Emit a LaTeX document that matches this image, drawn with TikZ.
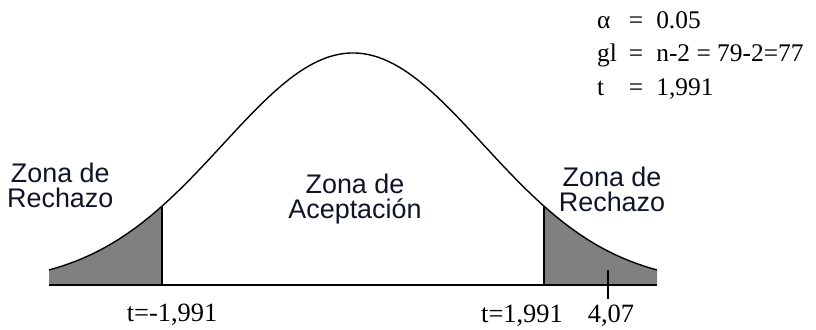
\documentclass[tikz,border=0pt]{standalone}
\usepackage{fontspec}
\setmainfont{Liberation Serif}
\setsansfont{Liberation Sans}
\usepackage{xcolor}
\usepackage{tikz}
\usetikzlibrary{positioning}
\definecolor{zonaInk}{RGB}{15, 20, 40}
\definecolor{zonaGray}{RGB}{128, 128, 128}
\tikzset{
    zona/.style={
        font=\sffamily\fontsize{27}{25}\selectfont,
        align=center,
        text=zonaInk,
        inner sep=0pt
    },
    valor/.style={
        font=\fontsize{26.5}{35}\selectfont,
        inner sep=0pt
    },
    curva/.style={
        line width=1.4pt,
        black
    },
    corte/.style={
        line width=2pt,
        black
    }
}

\begin{document}
\begin{tikzpicture}[x=1bp, y=-1bp, line join=round,
    declare function={bell(\x)=285-232*exp(-0.5*((\x-353)/130)^2);}]
    \useasboundingbox (0,0) rectangle (816,329);

    % Coordinates
    \coordinate (L0) at (49,285);
    \coordinate (L1) at (162,285);
    \coordinate (R1) at (544,285);
    \coordinate (R0) at (657,285);
    \coordinate (LT) at (162,{bell(162)});
    \coordinate (RT) at (544,{bell(544)});
    \coordinate (T0) at (608,270);
    \coordinate (T1) at (608,299);

    % Rejection tails
    \fill[zonaGray] (L0) -- plot[domain=49:162, samples=40] (\x,{bell(\x)}) -- (L1) -- cycle;
    \fill[zonaGray] (R1) -- plot[domain=544:657, samples=40] (\x,{bell(\x)}) -- (R0) -- cycle;

    % Curve and axis
    \draw[curva] plot[domain=49:657, samples=150, smooth] (\x,{bell(\x)});
    \draw[line width=1.2pt] (L0) -- (R0);
    \draw[corte] (L1) -- (LT);
    \draw[corte] (R1) -- (RT);
    \draw[corte] (T0) -- (T1);

    % Labels (base = last line)
    \node[zona, anchor=base west] (rechazoL) at (7,207) {Zona de\\Rechazo};
    \node[zona, anchor=base] (aceptacion) at (355,218) {Zona de\\Aceptación};
    \node[zona, anchor=base] (rechazoR) at (612,211) {Zona de\\Rechazo};

    \node[valor, anchor=base] (tneg) at (172,321) {t=-1,991};
    \node[valor, anchor=base] (tpos) at (522,322) {t=1,991};
    \node[valor, anchor=base] (tcal) at (611,322) {4,07};

    \node[valor, font=\fontsize{25.5}{34}\selectfont, anchor=base west] (datos) at (597,28) {%
        \begin{tabular}[t]{@{}l@{\hspace{12bp}}c@{\hspace{13bp}}l@{}}
            α  & = & 0.05\\
            gl & = & n-2 = 79-2=77\\
            t  & = & 1,991
        \end{tabular}};
\end{tikzpicture}
\end{document}
